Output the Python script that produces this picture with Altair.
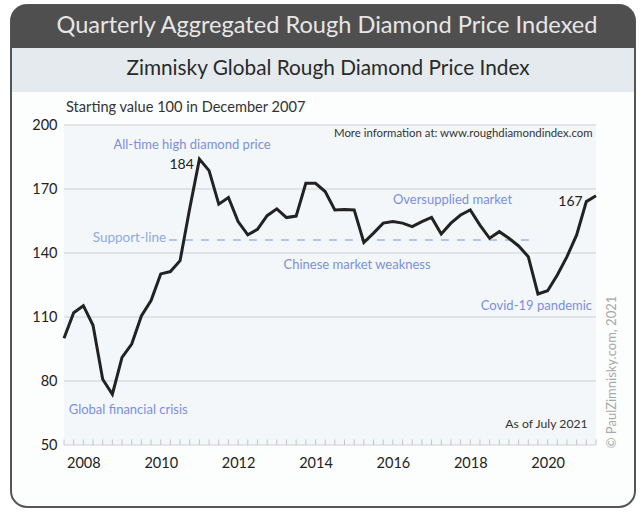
import altair as alt
import pandas as pd

# ---- data -------------------------------------------------------------
# quarter ends as decimal years: Dec 2007 (=2008.0) ... Sep 2021
quarters = [2008 + 0.25 * i for i in range(56)]
index_values = [100, 112, 115.3, 106.1, 80.8, 73.8, 91.1, 97.3, 110.5, 117.7,
                130.2, 131.3, 136.4, 161, 184, 178.6, 162.9, 166, 154.7, 148.5,
                151.1, 157.5, 160.7, 156.6, 157.3, 172.7, 172.7, 168.8, 160.2, 160.4,
                160.2, 144.9, 149.3, 154, 154.7, 154, 152.4, 154.7, 156.7, 148.9,
                154, 157.8, 160.2, 153.1, 146.9, 150, 146.9, 143.3, 138.3, 120.8,
                122.3, 129.7, 138.3, 148.5, 164.1, 166.8]
year_labels = [2008.5, 2010.5, 2012.5, 2014.5, 2016.5, 2018.5, 2020.5]
y_ticks = [50, 80, 110, 140, 170, 200]

blue_text = ["All-time high diamond price", "Chinese market weakness",
             "Oversupplied market", "Covid-19 pandemic", "Global financial crisis"]
blue_x = [2011.31, 2015.575, 2018.04, 2020.21, 2009.66]
blue_y = [190.6, 134.4, 164.8, 115.2, 66.4]

value_text = ["184", "167"]
value_x = [2011.04, 2021.09]
value_y = [181.3, 164.1]

support_text = ["Support-line"]
support_x = [2009.69]
support_y = [146.9]
support_start = [2010.71]
support_end = [2020.02]
support_level = [146.1]

note_text = ["More information at: www.roughdiamondindex.com", "As of July 2021"]
note_x = [2018.32, 2020.47]
note_y = [195.6, 59.8]
note_size = [11.4, 12.2]

FONT = "Lato"

series = pd.DataFrame({"t": quarters, "v": index_values})
one = pd.DataFrame({"a": [0]})
grid_df = pd.DataFrame({"v": y_ticks})
blue_df = pd.DataFrame({"t": blue_x, "v": blue_y, "label": blue_text})
value_df = pd.DataFrame({"t": value_x, "v": value_y, "label": value_text})
support_df = pd.DataFrame({"t": support_x, "v": support_y, "label": support_text})
support_line_df = pd.DataFrame({"t": support_start, "t2": support_end, "v": support_level})
note_df = pd.DataFrame({"t": note_x, "v": note_y, "label": note_text, "s": note_size})

xs = alt.Scale(domain=[2008, 2021.75], nice=False, zero=False)
ys = alt.Scale(domain=[50, 200], nice=False, zero=False)

x_axis = alt.Axis(values=year_labels, labelExpr="format(floor(datum.value), 'd')",
                  grid=False, domain=False, ticks=False, labelPadding=11,
                  labelFontSize=14.5, labelColor="#222222", labelFont=FONT,
                  title=None, zindex=1)
y_axis = alt.Axis(values=y_ticks, grid=False, domain=False, ticks=False,
                  labelPadding=7, labelFontSize=14.5, labelColor="#222222",
                  labelFont=FONT, title=None, zindex=1)


def X(field="t"):
    return alt.X(field, type="quantitative", scale=xs, axis=x_axis)


def Y(field="v"):
    return alt.Y(field, type="quantitative", scale=ys, axis=y_axis)


# ---- decoration (frame, header bars, plot background) -------------------
frame = alt.Chart(one).mark_rect(fill="#fcfdfd", stroke="#555555", strokeWidth=2,
                                 cornerRadius=16).encode(
    x=alt.value(-53), x2=alt.value(571), y=alt.value(-120), y2=alt.value(382))
header = alt.Chart(one).mark_rect(fill="#4f4f4f", cornerRadiusTopLeft=16,
                                  cornerRadiusTopRight=16).encode(
    x=alt.value(-53), x2=alt.value(571), y=alt.value(-120), y2=alt.value(-77))
subbar = alt.Chart(one).mark_rect(fill="#e4eaee").encode(
    x=alt.value(-52), x2=alt.value(570), y=alt.value(-77), y2=alt.value(-33))
plotbg = alt.Chart(one).mark_rect(fill="#f4f7f9").encode(
    x=alt.value(0), x2=alt.value(532), y=alt.value(0), y2=alt.value(320))

title = alt.Chart(one).mark_text(text="Quarterly Aggregated Rough Diamond Price Indexed",
                                 font=FONT, fontSize=23.6, color="#e6e6e6",
                                 align="center", baseline="middle").encode(
    x=alt.value(263), y=alt.value(-99))
subtitle = alt.Chart(one).mark_text(text="Zimnisky Global Rough Diamond Price Index",
                                    font=FONT, fontSize=20.8, color="#2a2a2a",
                                    align="center", baseline="middle").encode(
    x=alt.value(264), y=alt.value(-56))
start_note = alt.Chart(one).mark_text(text="Starting value 100 in December 2007",
                                      font=FONT, fontSize=14.6, color="#333333",
                                      align="left", baseline="middle").encode(
    x=alt.value(2), y=alt.value(-17))
copyright_ = alt.Chart(one).mark_text(text="© PaulZimnisky.com, 2021", font=FONT,
                                      fontSize=13, color="#a8a8a8", angle=270,
                                      align="center", baseline="middle").encode(
    x=alt.value(548), y=alt.value(247))

# ---- data-driven layers -------------------------------------------------
grid = alt.Chart(grid_df).mark_rule(color="#cfcfcf", strokeWidth=1).encode(y=Y())
qticks = alt.Chart(series).mark_rule(color="#c4c4c4", strokeWidth=1).encode(
    x=X(), y=alt.Y("base:Q", scale=ys, axis=y_axis), y2="top:Q").transform_calculate(
    base="50", top="52.6")
support_line = alt.Chart(support_line_df).mark_rule(
    color="#9fb5e6", strokeWidth=1.5, strokeDash=[8, 8]).encode(x=X(), x2="t2", y=Y())
line = alt.Chart(series).mark_line(color="#222222", strokeWidth=3).encode(x=X(), y=Y())

blue = alt.Chart(blue_df).mark_text(font=FONT, fontSize=13, color="#7b8fdd",
                                    align="center", baseline="middle").encode(
    x=X(), y=Y(), text="label")
support_lbl = alt.Chart(support_df).mark_text(font=FONT, fontSize=13.5, color="#8eaadf",
                                              align="center", baseline="middle").encode(
    x=X(), y=Y(), text="label")
vals = alt.Chart(value_df).mark_text(font=FONT, fontSize=14, color="#222222",
                                     align="center", baseline="middle").encode(
    x=X(), y=Y(), text="label")
notes = alt.Chart(note_df).mark_text(font=FONT, color="#333333", align="center",
                                     baseline="middle").encode(
    x=X(), y=Y(), text="label", size=alt.Size("s:Q", scale=None, legend=None))

chart = alt.layer(
    frame, header, subbar, plotbg, title, subtitle, start_note, copyright_,
    grid, qticks, support_line, line, blue, support_lbl, vals, notes,
).properties(
    width=532, height=320,
    padding={"left": 64, "top": 125, "right": 48, "bottom": 70},
    autosize=alt.AutoSizeParams(type="none"),
    background="white",
).configure_view(stroke=None)

chart.save("out.html", embed_options={"renderer": "svg", "actions": False})
